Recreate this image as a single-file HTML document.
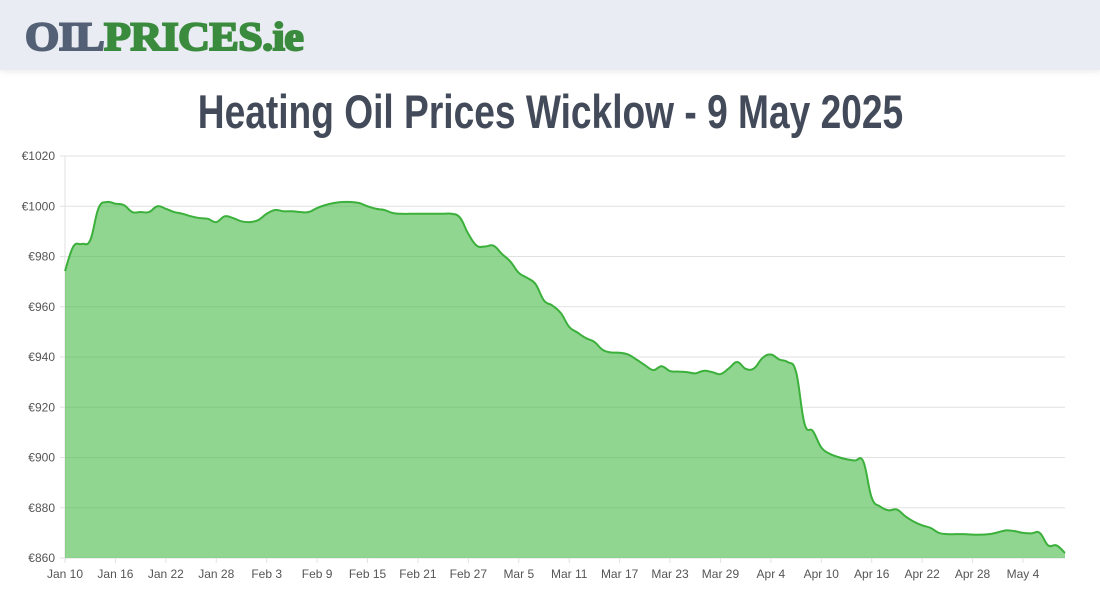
<!DOCTYPE html>
<html><head><meta charset="utf-8"><style>
body{margin:0;width:1100px;height:600px;background:#fff;overflow:hidden;font-family:"Liberation Sans",sans-serif;position:relative}
#hdr{position:absolute;left:0;top:0;width:1100px;height:70px;background:#e9ecf3;box-shadow:0 2px 6px rgba(0,0,0,0.08)}
#logo{position:absolute;left:25px;top:13px;font-family:"Liberation Serif",serif;font-weight:bold;font-size:40px;letter-spacing:-0.5px;white-space:nowrap;transform-origin:0 0;transform:scaleX(1.1);-webkit-text-stroke:2px currentColor}
#title{position:absolute;left:0;width:1100px;top:84px;text-align:center;font-size:47px;font-weight:bold;color:#434b5a;white-space:nowrap}
#title span{display:inline-block;transform:scaleX(0.79);transform-origin:center}
</style></head><body>
<div id="hdr">
<div id="logo"><span style="color:#536075">OIL</span><span style="color:#3a8b3e">PRICES.ie</span></div>
</div>
<div id="title"><span>Heating Oil Prices Wicklow - 9 May 2025</span></div>
<svg id="chart" width="1100" height="600" style="position:absolute;left:0;top:0"></svg>
<script>
const values=[974.2,984,985,986.5,999.3,1001.7,1001,1000.5,997.7,997.7,997.7,1000,999,997.7,997,996,995.3,995,993.7,996,995.3,994,993.7,994.5,997,998.5,998,998,997.7,997.7,999.3,1000.5,1001.3,1001.7,1001.7,1001.3,1000,999,998.5,997.3,997,997,997,997,997,997,997,995.5,989,984.3,984,984.3,981,978,973.5,971.5,969,962.5,960.5,957.5,952,949.7,947.5,946,942.8,941.8,941.7,941,939,936.8,934.8,936.3,934.4,934.2,934,933.5,934.5,934,933.2,935.5,938,935.3,935.5,939.6,941,939,938,934,913.5,910.5,904,901.5,900.2,899.3,898.8,898.4,884,880.5,879,879.3,876.6,874.5,873,872,870,869.5,869.5,869.5,869.3,869.3,869.5,870.2,871,870.7,870,869.8,870,865,865,862];
const xTickLabels=["Jan 10","Jan 16","Jan 22","Jan 28","Feb 3","Feb 9","Feb 15","Feb 21","Feb 27","Mar 5","Mar 11","Mar 17","Mar 23","Mar 29","Apr 4","Apr 10","Apr 16","Apr 22","Apr 28","May 4"];
const yTicks=[860,880,900,920,940,960,980,1000,1020];
const X0=65,X1=1065,Y0=558,Y1=156,YMIN=860,YMAX=1020;
function xs(i){return X0+(X1-X0)*i/(values.length-1);}
function ys(v){return Y0-(v-YMIN)/(YMAX-YMIN)*(Y0-Y1);}
const svg=document.getElementById('chart');const NS='http://www.w3.org/2000/svg';
function mk(t,a){const e=document.createElementNS(NS,t);for(const k in a)e.setAttribute(k,a[k]);svg.appendChild(e);return e;}
yTicks.forEach(v=>{
 const l=mk('line',{x1:X0-5,x2:X1,y1:ys(v),y2:ys(v),stroke:'#e2e2e2','stroke-width':1});
 
 
 const t=mk('text',{x:X0-10,y:ys(v)+4,'text-anchor':'end','font-size':12,fill:'#555','font-family':'Liberation Sans,sans-serif'});
 t.textContent='€'+v;
 
 
});
const va=mk('line',{x1:X0,x2:X0,y1:Y1,y2:Y0+5,stroke:'#e2e2e2'});


xTickLabels.forEach((s,k)=>{
 const x=xs(k*6);
 const tl=mk('line',{x1:x,x2:x,y1:Y0,y2:Y0+5,stroke:'#e2e2e2'});
 
 
 const t=mk('text',{x:x,y:Y0+20,'text-anchor':'middle','font-size':12,fill:'#555','font-family':'Liberation Sans,sans-serif'});
 t.textContent=s;
 
 
});
const P=values.map((v,i)=>[xs(i),ys(v)]);
let d='M'+P[0][0]+','+P[0][1];const T=0.2;
for(let i=0;i<P.length-1;i++){
 const p0=P[Math.max(0,i-1)],p1=P[i],p2=P[i+1],p3=P[Math.min(P.length-1,i+2)];
 const c1=[p1[0]+(p2[0]-p0[0])*T,p1[1]+(p2[1]-p0[1])*T];
 const c2=[p2[0]-(p3[0]-p1[0])*T,p2[1]-(p3[1]-p1[1])*T];
 d+=' C'+c1[0]+','+c1[1]+' '+c2[0]+','+c2[1]+' '+p2[0]+','+p2[1];
}
const area=mk('path',{d:d+' L'+X1+','+Y0+' L'+X0+','+Y0+' Z',fill:'rgba(70,185,70,0.6)'});


const line=mk('path',{d:d,fill:'none',stroke:'#3bb03b','stroke-width':2});


</script>
</body></html>
